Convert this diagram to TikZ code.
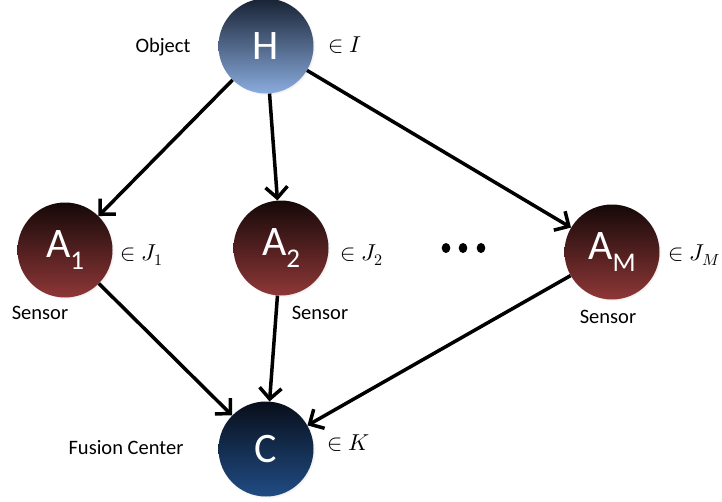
\documentclass[tikz,border=0pt]{standalone}
\usepackage{fontspec}
\setmainfont{Carlito}
\usepackage{unicode-math}
\usetikzlibrary{arrows.meta,shadows}
\tikzset{
  ball/.style={circle, minimum size=95pt, inner sep=0pt, text=white,
    font=\fontsize{42}{42}\selectfont,
    circular drop shadow={shadow xshift=1pt, shadow yshift=-1pt, opacity=0.35, shadow scale=1.02}},
  objball/.style={ball, top color={rgb,255:red,24;green,34;blue,52}, bottom color={rgb,255:red,138;green,172;blue,222}},
  sensball/.style={ball, top color={rgb,255:red,22;green,8;blue,8}, bottom color={rgb,255:red,142;green,55;blue,55}},
  fusball/.style={ball, top color={rgb,255:red,8;green,14;blue,26}, bottom color={rgb,255:red,32;green,76;blue,132}},
  lab/.style={font=\fontsize{20.5}{20.5}\selectfont, text=black},
  memb/.style={font=\fontsize{23}{23}\selectfont, anchor=west, inner sep=0pt},
  conn/.style={line width=3.5pt, -{Straight Barb[length=11pt,width=22pt,line width=3.5pt]}},
}
\newcommand{\sub}[1]{\raisebox{-0.28em}{\fontsize{27}{27}\selectfont #1}}
\begin{document}
\begin{tikzpicture}[x=1pt,y=-1pt]
\useasboundingbox (0,0) rectangle (722,501);
\node[objball] (H) at (266,46) {H};
\node[sensball] (A1) at (65,250) {A\sub{1}};
\node[sensball] (A2) at (281,248) {A\sub{2}};
\node[sensball] (AM) at (612,252) {A\sub{M}};
\node[fusball] (C) at (266,449) {C};

\node[lab] (lobj) at (163,47) {Object};
\node[lab] (ls1) at (40,313) {Sensor};
\node[lab] (ls2) at (320,313) {Sensor};
\node[lab] (ls3) at (608,317) {Sensor};
\node[lab] (lfc) at (126,448) {Fusion Center};

\node[memb] (mH) at (328,45) {$\in I$};
\node[memb] (m1) at (120,255) {$\in J_1$};
\node[memb] (m2) at (340,255) {$\in J_2$};
\node[memb] (mM) at (668,255) {$\in J_M$};
\node[memb] (mC) at (327,443) {$\in K$};

\fill (446,248) ellipse (4.3pt and 5pt);
\fill (463,248) ellipse (4.3pt and 5pt);
\fill (481,248) ellipse (4.3pt and 5pt);

\draw[conn] (H) -- (A1);
\draw[conn] (H) -- (A2);
\draw[conn] (H) -- (AM);
\draw[conn] (A1) -- (C);
\draw[conn] (A2) -- (C);
\draw[conn] (AM) -- (C);
\end{tikzpicture}
\end{document}
